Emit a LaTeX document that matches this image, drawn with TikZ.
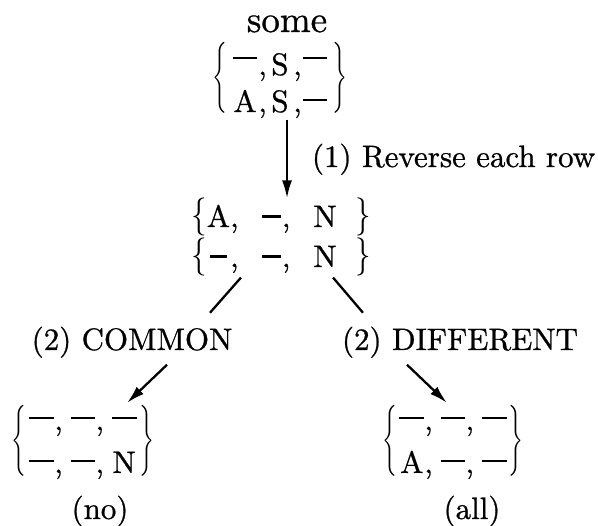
\RequirePackage{fix-cm}
\documentclass[tikz,border=0pt]{standalone}
\usepackage{amsmath}
\usepackage{graphicx}
\usepackage{fontspec}
\setmainfont{lmroman10-regular.otf}[FakeBold=0.8]
\usetikzlibrary{arrows.meta}
\newcommand{\dsh}[1][0.35em]{\rule[#1]{0.8em}{0.075em}}
\newcommand{\cel}[2][0.85em]{\makebox[#1][c]{#2}}
\newcommand{\tallL}{\scalebox{0.8}[1.19]{$\Big\{$}}
\newcommand{\tallR}{\scalebox{0.8}[1.19]{$\Big\}$}}
\newcommand{\midL}{\scalebox{1}[1.23]{$\{$}}
\newcommand{\midR}{\scalebox{1}[1.23]{$\}$}}
\begin{document}
\begin{tikzpicture}[x=1pt,y=-1pt,
  every node/.style={inner sep=0pt,outer sep=0pt},
  font=\fontsize{31}{37}\selectfont,
  arr/.style={line width=2.3pt,-{Latex[length=18pt,width=10pt]}},
  ln/.style={line width=2.3pt}]
\useasboundingbox (0,0) rectangle (598,526);
% top
\node[anchor=base,font=\fontsize{37}{40}\selectfont] (some) at (287,32) {some};
\node[anchor=base] (top) at (280,75) {\begin{tabular}[t]{@{}c@{,}c@{,}c@{}}\cel{\dsh[0.5em]} & \cel{S} & \cel{\dsh[0.5em]}\\ \cel{A} & \cel{S} & \cel{\dsh}\end{tabular}};
\node (topL) at (220,78) {\tallL};
\node (topR) at (340,78) {\tallR};
\node[anchor=base west] (rev) at (312,167) {(1) Reverse each row};
% middle
\node[anchor=base] (mid1) at (281,227) {\midL\cel[0.75em]{A},\hspace{0.74em}\cel[0.65em]{\rule[0.3em]{0.62em}{0.075em}},\hspace{0.74em}\cel[0.75em]{N}\hspace{0.6em}\midR};
\node[anchor=base] (mid2) at (281,267) {\midL\cel[0.75em]{\rule[0.3em]{0.55em}{0.075em}},\hspace{0.74em}\cel[0.65em]{\rule[0.3em]{0.62em}{0.075em}},\hspace{0.74em}\cel[0.75em]{N}\hspace{0.6em}\midR};
% labels
\node[anchor=base] (common) at (132,350) {(2) COMMON};
\node[anchor=base] (diff) at (460,350) {(2) DIFFERENT};
% bottom left
\node[anchor=base] (bl) at (83,430) {\renewcommand{\arraystretch}{1.16}\begin{tabular}[t]{@{}c@{,\hspace{0.25em}}c@{,\hspace{0.25em}}c@{}}\cel[0.8em]{\dsh} & \cel[0.8em]{\dsh} & \cel[0.8em]{\dsh}\\ \cel[0.8em]{\dsh} & \cel[0.8em]{\dsh} & \cel[0.8em]{N}\end{tabular}};
\node (blL) at (18.5,441) {\tallL};
\node (blR) at (146.5,441) {\tallR};
% bottom right
\node[anchor=base] (br) at (453,430) {\renewcommand{\arraystretch}{1.16}\begin{tabular}[t]{@{}c@{,\hspace{0.25em}}c@{,\hspace{0.25em}}c@{}}\cel[0.8em]{\dsh} & \cel[0.8em]{\dsh} & \cel[0.8em]{\dsh}\\ \cel[0.8em]{A} & \cel[0.8em]{\dsh} & \cel[0.8em]{\dsh}\end{tabular}};
\node (brL) at (389.5,441) {\tallL};
\node (brR) at (515.5,441) {\tallR};
\node[anchor=base] (no) at (100,519) {(no)};
\node[anchor=base] (all) at (472,519) {(all)};
% connectors
\draw[arr,shorten <=6pt] (some.south |- topL.south) -- (some.south |- mid1.north);
\draw[ln] ([xshift=-40pt,yshift=-1pt]mid2.south) -- ([xshift=78pt,yshift=14pt]common.north);
\draw[ln] ([xshift=52pt,yshift=-1pt]mid2.south) -- ([xshift=-97pt,yshift=14pt]diff.north);
\draw[arr] ([xshift=35pt,yshift=-7pt]common.south) -- ([xshift=44pt,yshift=-3pt]bl.north);
\draw[arr] ([xshift=-53pt,yshift=-7pt]diff.south) -- ([xshift=-6pt,yshift=-3pt]br.north);
\end{tikzpicture}
\end{document}
